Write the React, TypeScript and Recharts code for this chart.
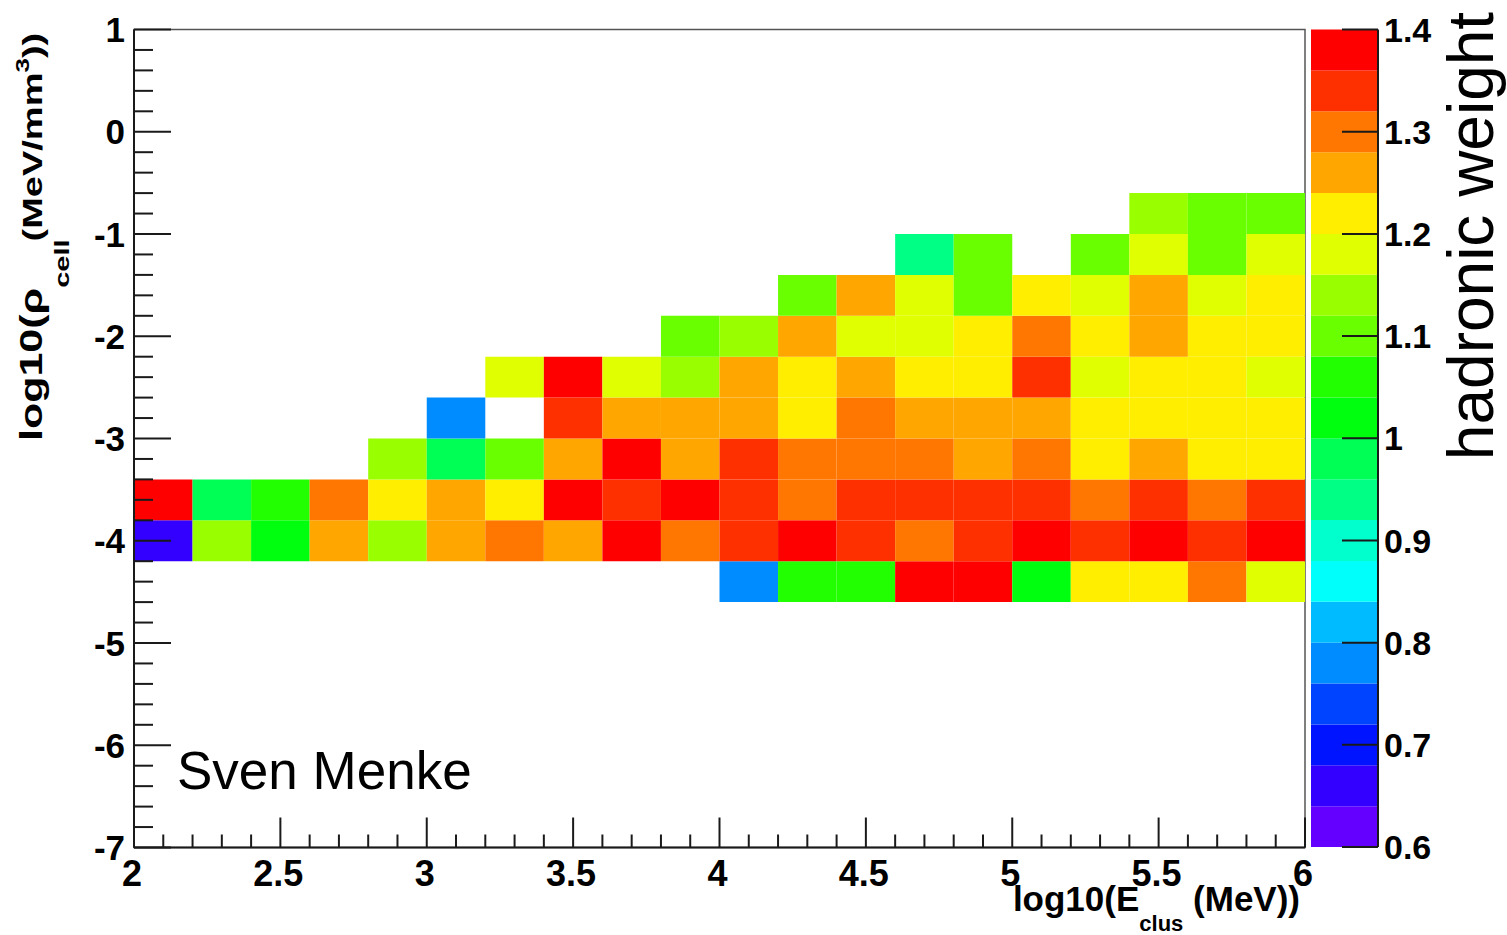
import React from 'react';
import { ScatterChart, Scatter, XAxis, YAxis, ReferenceArea } from 'recharts';

// ---- binning ---------------------------------------------------------------
// log10(E_clus / MeV): 20 bins of width 0.2
const E_EDGES = [2.0, 2.2, 2.4, 2.6, 2.8, 3.0, 3.2, 3.4, 3.6, 3.8, 4.0, 4.2, 4.4, 4.6, 4.8, 5.0, 5.2, 5.4, 5.6, 5.8, 6.0];
// lower edges of the filled log10(rho_cell / (MeV/mm^3)) bins, width 0.4
const RHO_LOW = [-4.6, -4.2, -3.8, -3.4, -3.0, -2.6, -2.2, -1.8, -1.4, -1.0];
const RHO_WIDTH = 0.4;

// ---- hadronic weight per bin (one array per rho row, one entry per E bin) ----
const _ = null;
const W_RHO_M46 = [_, _, _, _, _, _, _, _, _, _, 0.78, 1.06, 1.06, 1.38, 1.38, 1.02, 1.22, 1.22, 1.30, 1.18];
const W_RHO_M42 = [0.66, 1.14, 1.02, 1.26, 1.14, 1.26, 1.30, 1.26, 1.38, 1.30, 1.34, 1.38, 1.34, 1.30, 1.34, 1.38, 1.34, 1.38, 1.34, 1.38];
const W_RHO_M38 = [1.38, 0.98, 1.06, 1.30, 1.22, 1.26, 1.22, 1.38, 1.34, 1.38, 1.34, 1.30, 1.34, 1.34, 1.34, 1.34, 1.30, 1.34, 1.30, 1.34];
const W_RHO_M34 = [_, _, _, _, 1.14, 0.98, 1.10, 1.26, 1.38, 1.26, 1.34, 1.30, 1.30, 1.30, 1.26, 1.30, 1.22, 1.26, 1.22, 1.22];
const W_RHO_M30 = [_, _, _, _, _, 0.78, _, 1.34, 1.26, 1.26, 1.26, 1.22, 1.30, 1.26, 1.26, 1.26, 1.22, 1.22, 1.22, 1.22];
const W_RHO_M26 = [_, _, _, _, _, _, 1.18, 1.38, 1.18, 1.14, 1.26, 1.22, 1.26, 1.22, 1.22, 1.34, 1.18, 1.22, 1.22, 1.18];
const W_RHO_M22 = [_, _, _, _, _, _, _, _, _, 1.10, 1.14, 1.26, 1.18, 1.18, 1.22, 1.30, 1.22, 1.26, 1.22, 1.22];
const W_RHO_M18 = [_, _, _, _, _, _, _, _, _, _, _, 1.10, 1.26, 1.18, 1.10, 1.22, 1.18, 1.26, 1.18, 1.22];
const W_RHO_M14 = [_, _, _, _, _, _, _, _, _, _, _, _, _, 0.94, 1.10, _, 1.10, 1.18, 1.10, 1.18];
const W_RHO_M10 = [_, _, _, _, _, _, _, _, _, _, _, _, _, _, _, _, _, 1.14, 1.10, 1.10];
const WEIGHT_ROWS = [W_RHO_M46, W_RHO_M42, W_RHO_M38, W_RHO_M34, W_RHO_M30, W_RHO_M26, W_RHO_M22, W_RHO_M18, W_RHO_M14, W_RHO_M10];

// ---- colour scale: 20 contour levels, violet -> red -------------------------
const Z_LEVELS = [0.6, 0.64, 0.68, 0.72, 0.76, 0.8, 0.84, 0.88, 0.92, 0.96, 1.0, 1.04, 1.08, 1.12, 1.16, 1.2, 1.24, 1.28, 1.32, 1.36, 1.4];
const PALETTE = [
  '#6300ff', '#3300ff', '#0014ff', '#0044ff', '#008bff',
  '#00bbff', '#00fffb', '#00ffcc', '#00ff85', '#00ff55',
  '#00ff0e', '#22ff00', '#69ff00', '#99ff00', '#e0ff00',
  '#ffee00', '#ffa700', '#ff7700', '#ff3000', '#ff0000',
];
const Z_TICKS = [0.6, 0.7, 0.8, 0.9, 1.0, 1.1, 1.2, 1.3, 1.4];
const Z_TICK_LABELS = ['0.6', '0.7', '0.8', '0.9', '1', '1.1', '1.2', '1.3', '1.4'];

// ---- axis ticks ------------------------------------------------------------
const E_MAJOR = [2, 2.5, 3, 3.5, 4, 4.5, 5, 5.5, 6];
const E_TICK_LABELS = ['2', '2.5', '3', '3.5', '4', '4.5', '5', '5.5', '6'];
const RHO_MAJOR = [-7, -6, -5, -4, -3, -2, -1, 0, 1];
const RHO_TICK_LABELS = ['-7', '-6', '-5', '-4', '-3', '-2', '-1', '0', '1'];

const r3 = (v: number) => Math.round(v * 1000) / 1000;
const subdivide = (majors: number[], n: number) => {
  const out: number[] = [];
  majors.forEach((m, i) => {
    out.push(m);
    if (i < majors.length - 1) {
      const step = (majors[i + 1] - m) / n;
      for (let k = 1; k < n; k++) out.push(r3(m + k * step));
    }
  });
  return out;
};
const E_TICKS = subdivide(E_MAJOR, 5);
const RHO_TICKS = subdivide(RHO_MAJOR, 5);

const FONT = "'Liberation Sans', Arial, Helvetica, sans-serif";
const INK = '#1a1a1a';

const colourFor = (w: number) => {
  let idx = 0;
  for (let i = 0; i < PALETTE.length; i++) if (w >= Z_LEVELS[i] - 1e-9) idx = i;
  return PALETTE[idx];
};

type Cell = { x1: number; x2: number; y1: number; y2: number; x: number; y: number; w: number };
const CELLS: Cell[] = [];
WEIGHT_ROWS.forEach((row, r) => {
  row.forEach((w, c) => {
    if (w === null) return;
    const y1 = RHO_LOW[r];
    const y2 = r3(RHO_LOW[r] + RHO_WIDTH);
    CELLS.push({ x1: E_EDGES[c], x2: E_EDGES[c + 1], y1, y2, x: (E_EDGES[c] + E_EDGES[c + 1]) / 2, y: (y1 + y2) / 2, w });
  });
});

const BANDS = PALETTE.map((fill, i) => ({ y1: Z_LEVELS[i], y2: Z_LEVELS[i + 1], y: (Z_LEVELS[i] + Z_LEVELS[i + 1]) / 2, x: 0.5, fill }));

// ---- tick renderers (ticks point into the frame) -----------------------------
const RhoTick = (props: any) => {
  const { x, y, payload } = props;
  const v = r3(payload.value);
  const mi = RHO_MAJOR.indexOf(v);
  const major = mi >= 0;
  return (
    <g>
      <line x1={x} y1={y} x2={x + (major ? 37 : 19)} y2={y} stroke={INK} strokeWidth={2} />
      {major && (
        <text x={x - 9} y={y} dy="0.36em" textAnchor="end" fontFamily={FONT} fontWeight="bold" fontSize={35} fill="#000">
          {RHO_TICK_LABELS[mi]}
        </text>
      )}
    </g>
  );
};

const ETick = (props: any) => {
  const { x, y, payload } = props;
  const v = r3(payload.value);
  const mi = E_MAJOR.indexOf(v);
  const major = mi >= 0;
  return (
    <g>
      <line x1={x} y1={y} x2={x} y2={y - (major ? 30 : 13)} stroke={INK} strokeWidth={2} />
      {major && (
        <text x={x - 2} y={y + 38} textAnchor="middle" fontFamily={FONT} fontWeight="bold" fontSize={36} fill="#000">
          {E_TICK_LABELS[mi]}
        </text>
      )}
    </g>
  );
};

const ZTick = (props: any) => {
  const { x, y, payload } = props;
  const v = r3(payload.value);
  const mi = Z_TICKS.indexOf(v);
  return (
    <g>
      <line x1={x - 36} y1={y} x2={x} y2={y} stroke={INK} strokeWidth={2} />
      <text x={x + 6} y={y} dy="0.36em" textAnchor="start" fontFamily={FONT} fontWeight="bold" fontSize={34} fill="#000">
        {Z_TICK_LABELS[mi]}
      </text>
    </g>
  );
};

const Empty = () => <g />;

export default function App() {
  return (
    <div style={{ position: 'absolute', left: 0, top: 0, width: 1507, height: 935, background: '#fff' }}>
      {/* main 2D histogram */}
      <div style={{ position: 'absolute', left: 0, top: 0 }}>
        <ScatterChart width={1507} height={935} margin={{ top: 29.5, right: 202, bottom: 27.5, left: 34 }}>
          <XAxis
            type="number"
            dataKey="x"
            domain={[2, 6]}
            ticks={E_TICKS}
            interval={0}
            allowDataOverflow
            height={60}
            tickSize={0}
            tickMargin={0}
            tickLine={false}
            tick={<ETick />}
            axisLine={{ stroke: INK, strokeWidth: 2 }}
          />
          <YAxis
            type="number"
            dataKey="y"
            domain={[-7, 1]}
            ticks={RHO_TICKS}
            interval={0}
            allowDataOverflow
            width={100}
            tickSize={0}
            tickMargin={0}
            tickLine={false}
            tick={<RhoTick />}
            axisLine={{ stroke: INK, strokeWidth: 2 }}
          />
          <ReferenceArea x1={2} x2={6} y1={-7} y2={1} fill="none" fillOpacity={0} stroke="#555" strokeWidth={1.5} ifOverflow="visible" />
          {CELLS.map((c, i) => (
            <ReferenceArea
              key={i}
              x1={c.x1}
              x2={c.x2}
              y1={c.y1}
              y2={c.y2}
              fill={colourFor(c.w)}
              fillOpacity={1}
              stroke="none"
              ifOverflow="visible"
            />
          ))}
          <Scatter data={CELLS} dataKey="y" shape={Empty} isAnimationActive={false} />
        </ScatterChart>
      </div>

      {/* colour scale */}
      <div style={{ position: 'absolute', left: 1300, top: 0 }}>
        <ScatterChart width={207} height={935} margin={{ top: 29.5, right: 0, bottom: 88, left: 11 }}>
          <XAxis type="number" dataKey="x" domain={[0, 1]} hide />
          <YAxis
            type="number"
            dataKey="y"
            orientation="right"
            domain={[0.6, 1.4]}
            ticks={Z_TICKS}
            interval={0}
            allowDataOverflow
            width={129}
            tickSize={0}
            tickMargin={0}
            tickLine={false}
            tick={<ZTick />}
            axisLine={{ stroke: INK, strokeWidth: 2 }}
          />
          {BANDS.map((b, i) => (
            <ReferenceArea key={i} x1={0} x2={1} y1={b.y1} y2={b.y2} fill={b.fill} fillOpacity={1} stroke="none" ifOverflow="visible" />
          ))}
          <Scatter data={BANDS} dataKey="y" shape={Empty} isAnimationActive={false} />
        </ScatterChart>
      </div>

      {/* titles and annotation */}
      <svg width={1507} height={935} style={{ position: 'absolute', left: 0, top: 0, pointerEvents: 'none' }}>
        <text transform="translate(42,441) rotate(-90) scale(1,0.72)" fontFamily={FONT} fontWeight="bold" fontSize={43} fill="#000">
          log10(ρ
          <tspan fontSize={29} dy={38}>cell</tspan>
          <tspan fontSize={38} dy={-38} dx={-2}>(MeV/mm</tspan>
          <tspan fontSize={26} dy={-18}>3</tspan>
          <tspan fontSize={38} dy={18}>))</tspan>
        </text>
        <text x={1300} y={911} textAnchor="end" fontFamily={FONT} fontWeight="bold" fontSize={35} fill="#000">
          log10(E
          <tspan fontSize={22} dy={20}>clus</tspan>
          <tspan dy={-20}> (MeV))</tspan>
        </text>
        <text x={177} y={789} fontFamily={FONT} fontSize={53} fill="#000">
          Sven Menke
        </text>
        <text transform="translate(1493,236) rotate(-90)" textAnchor="middle" fontFamily={FONT} fontSize={64} fill="#000">
          hadronic weight
        </text>
      </svg>
    </div>
  );
}
